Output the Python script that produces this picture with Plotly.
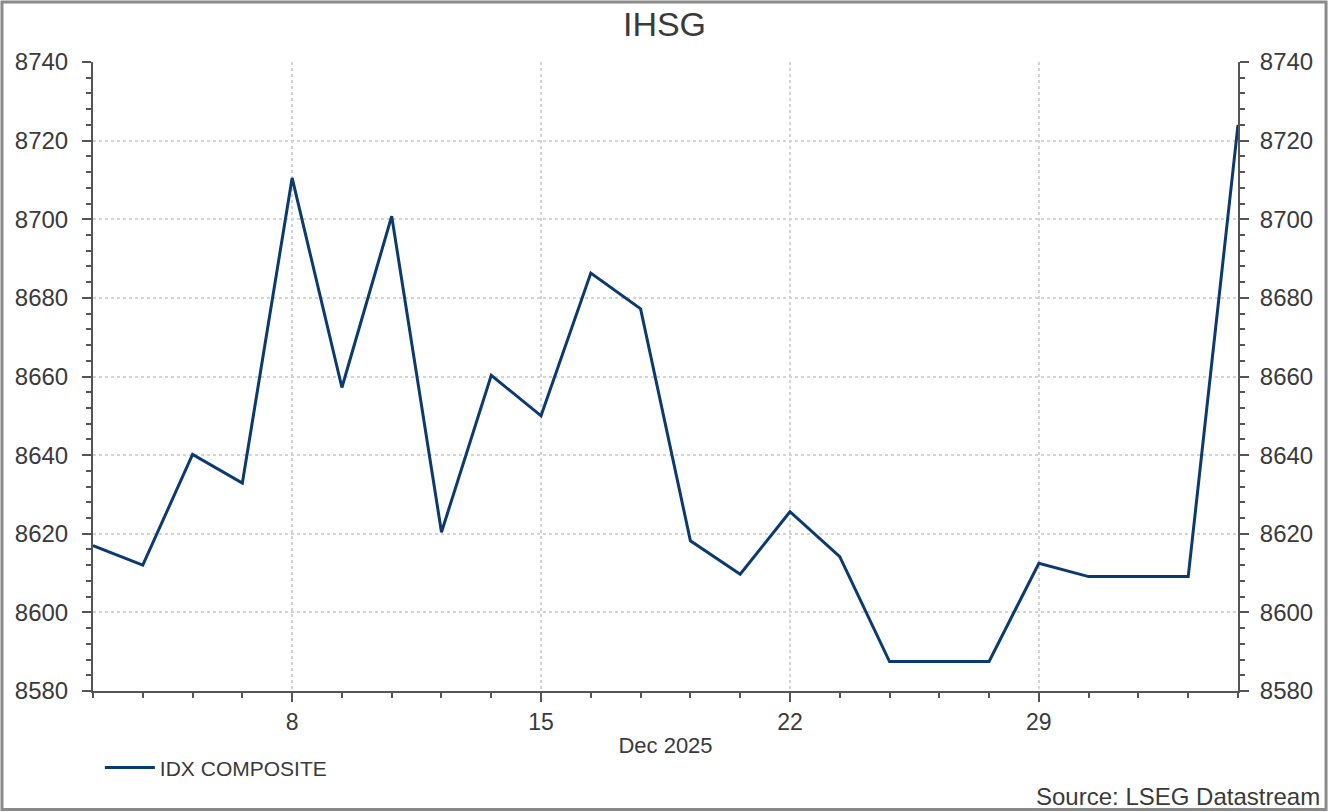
import plotly.graph_objects as go

dates = ["2025-12-02", "2025-12-03", "2025-12-04", "2025-12-05",
         "2025-12-08", "2025-12-09", "2025-12-10", "2025-12-11", "2025-12-12",
         "2025-12-15", "2025-12-16", "2025-12-17", "2025-12-18", "2025-12-19",
         "2025-12-22", "2025-12-23", "2025-12-24", "2025-12-25", "2025-12-26",
         "2025-12-29", "2025-12-30", "2025-12-31", "2026-01-01", "2026-01-02"]
idx_composite = [8617.0, 8612.0, 8640.2, 8632.9,
                 8710.5, 8657.2, 8700.8, 8620.4, 8660.3,
                 8650.0, 8686.3, 8677.2, 8618.2, 8609.7,
                 8625.6, 8614.2, 8587.5, 8587.5, 8587.5,
                 8612.5, 8609.1, 8609.1, 8609.1, 8724.0]
major_ticks = ["2025-12-08", "2025-12-15", "2025-12-22", "2025-12-29"]
major_labels = ["8", "15", "22", "29"]
y_ticks = [8580, 8600, 8620, 8640, 8660, 8680, 8700, 8720, 8740]

TXT = "#3a3a3a"
AX = "#555555"
LINE = "#0b3a6e"
FONT = "Liberation Sans, Arial, sans-serif"

fig = go.Figure()
fig.add_trace(go.Scatter(x=dates, y=idx_composite, mode="lines", name="IDX COMPOSITE",
                         line=dict(color=LINE, width=3), yaxis="y"))
fig.add_trace(go.Scatter(x=dates, y=idx_composite, mode="lines", showlegend=False,
                         line=dict(color=LINE, width=3), opacity=0, hoverinfo="skip",
                         yaxis="y2"))

yax = dict(range=[8580, 8740], tickvals=y_ticks, ticks="outside", ticklen=9, tickwidth=2,
           tickcolor=AX, showline=True, linecolor=AX, linewidth=2,
           tickfont=dict(size=24, color=TXT, family=FONT), zeroline=False,
           minor=dict(dtick=4, tick0=8580, ticks="outside", ticklen=5, tickwidth=2,
                      tickcolor=AX, showgrid=False))

fig.update_layout(
    width=1329, height=812,
    margin=dict(l=93, r=91, t=62, b=121),
    paper_bgcolor="white", plot_bgcolor="white",
    font=dict(family=FONT, color=TXT),
    title=dict(text="IHSG", x=0.5, xanchor="center", y=0.97, yanchor="middle",
               font=dict(size=34, color=TXT, family=FONT)),
    xaxis=dict(type="date", range=["2025-12-02", "2026-01-02"],
               rangebreaks=[dict(bounds=["sat", "mon"])],
               tickvals=major_ticks, ticktext=major_labels,
               ticks="outside", ticklen=9, tickwidth=2, tickcolor=AX,
               showline=True, linecolor=AX, linewidth=2,
               showgrid=True, gridcolor="#d4d4d4", griddash="dot", gridwidth=2,
               tickfont=dict(size=23, color=TXT, family=FONT), ticklabelstandoff=0,
               title=dict(text="Dec 2025", font=dict(size=22, color=TXT, family=FONT), standoff=4),
               minor=dict(tickmode="array", tickvals=dates, ticks="outside", ticklen=5,
                          tickwidth=2, tickcolor=AX, showgrid=False)),
    yaxis=dict(**yax, side="left", showgrid=True, gridcolor="#d4d4d4", griddash="dot",
               gridwidth=2, ticklabelstandoff=9),
    yaxis2=dict(**yax, side="right", overlaying="y", showgrid=False, ticklabelstandoff=6),
    showlegend=True,
    legend=dict(orientation="h", x=0.006, y=-0.122, xanchor="left", yanchor="middle",
                font=dict(size=21, color=TXT, family=FONT), itemwidth=50,
                bgcolor="rgba(0,0,0,0)"),
    annotations=[dict(text="Source: LSEG Datastream", xref="paper", yref="paper",
                      x=1.0734, y=-0.1685, xanchor="right", yanchor="middle",
                      showarrow=False, font=dict(size=24, color=TXT, family=FONT))],
    shapes=[dict(type="rect", xref="paper", yref="paper",
                 x0=-0.0795, x1=1.0769, y0=-0.1885, y1=1.0954,
                 line=dict(color="#8a8a8a", width=3), layer="below")],
)

fig.write_html("out.html", config={"displayModeBar": False},
               post_script="document.body.style.margin='0';document.body.style.overflow='hidden';")
